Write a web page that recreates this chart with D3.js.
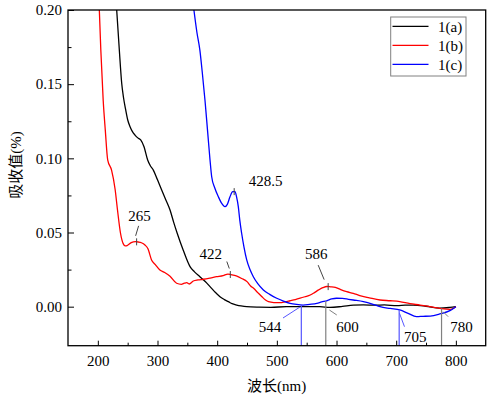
<!DOCTYPE html>
<html>
<head>
<meta charset="utf-8">
<script src="https://cdn.jsdelivr.net/npm/d3@7"></script>
<style>
  body { margin: 0; background: #fff; }
  text { font-family: "Liberation Serif", "Times New Roman", "Noto Sans CJK SC", serif; }
</style>
</head>
<body>
<div id="chart"></div>
<script>
// ---- data (wavelength nm, absorbance) ----
var wlA = [231.6, 236, 240, 243, 246.7, 250, 254, 258, 262.3, 267, 271.8, 277.4, 283.5, 288, 293, 300, 307, 314, 321, 327, 333, 343, 354.5, 362, 371, 380, 388, 396, 404.7, 412, 418.7, 425, 432.7, 440, 449.5, 470, 490, 516, 545, 572, 589, 610, 628, 645, 665, 680, 701, 715, 729, 750, 773, 790, 800];
var absA = [0.200, 0.173, 0.1506, 0.141, 0.1326, 0.126, 0.1213, 0.118, 0.1157, 0.1138, 0.1124, 0.1078, 0.0989, 0.095, 0.0921, 0.0855, 0.0787, 0.072, 0.0652, 0.057, 0.0495, 0.0382, 0.027, 0.0235, 0.0202, 0.017, 0.0135, 0.010, 0.0067, 0.0048, 0.0034, 0.002, 0.0011, 0.0005, 0.0, -0.0003, -0.0004, 0.0, 0.0, 0.0, -0.0005, 0.0002, 0.0010, 0.0012, 0.0010, 0.0012, 0.0007, 0.0010, 0.0011, 0.0003, -0.0010, -0.0005, 0.0];

var wlB = [202.5, 205, 209, 212.5, 216.5, 223, 229, 233, 238, 242.5, 246, 249, 256, 263, 268, 273, 279, 284, 290, 296, 304, 312, 321, 332, 340, 345, 349, 353, 360, 368, 377, 388, 399, 410, 418, 423, 432, 441, 450, 456, 461, 468, 475, 481, 486, 495, 505, 514, 522, 531, 539, 547, 556, 563, 570, 577, 584, 590, 598, 607, 617, 628, 639, 655, 673, 690, 706, 723, 740, 757, 773, 790, 800];
var absB = [0.200, 0.173, 0.139, 0.119, 0.099, 0.092, 0.079, 0.065, 0.0495, 0.0425, 0.041, 0.0412, 0.0432, 0.0438, 0.0436, 0.0431, 0.0416, 0.039, 0.0315, 0.0285, 0.0247, 0.023, 0.0205, 0.0158, 0.0151, 0.0158, 0.0162, 0.0153, 0.0173, 0.018, 0.0185, 0.0193, 0.0202, 0.021, 0.022, 0.0216, 0.0207, 0.019, 0.0169, 0.014, 0.0124, 0.0095, 0.0067, 0.0045, 0.0034, 0.0028, 0.0027, 0.0033, 0.004, 0.0048, 0.0057, 0.0067, 0.0079, 0.0095, 0.0113, 0.0128, 0.0136, 0.0134, 0.013, 0.0115, 0.0101, 0.009, 0.0075, 0.006, 0.0045, 0.004, 0.0034, 0.002, 0.0011, 0.0, -0.0011, -0.0018, 0.0];

var wlC = [361, 366, 371, 375, 379.6, 384, 388, 390.8, 396, 402, 407, 413, 417, 421.5, 426, 429.9, 432.5, 435.4, 438, 441, 445, 449.5, 455, 460.6, 468, 477.4, 488, 499.8, 511, 522, 533, 544, 555, 567, 575, 583.6, 592, 600, 610, 620, 628, 645, 660, 673, 690, 706, 720, 734, 745, 757, 773, 790, 800];
var absC = [0.200, 0.185, 0.173, 0.158, 0.139, 0.118, 0.0989, 0.0876, 0.080, 0.0741, 0.070, 0.0674, 0.069, 0.0741, 0.0775, 0.0776, 0.074, 0.0674, 0.058, 0.0495, 0.040, 0.0315, 0.025, 0.0202, 0.0155, 0.0113, 0.0083, 0.0057, 0.0038, 0.0023, 0.0015, 0.0011, 0.0016, 0.0023, 0.0032, 0.004, 0.0052, 0.0057, 0.0056, 0.005, 0.0045, 0.0034, 0.0018, 0.0, -0.0012, -0.0022, -0.0045, -0.0067, -0.0065, -0.0063, -0.0049, -0.0027, 0.0];

var seriesNames = ["1(a)", "1(b)", "1(c)"];
var seriesColors = ["#000000", "#ff0000", "#0000ff"];

var xTicks = [200, 300, 400, 500, 600, 700, 800];
var xMinor = [250, 350, 450, 550, 650, 750];
var yTicks = [0.00, 0.05, 0.10, 0.15, 0.20];
var yMinor = [0.025, 0.075, 0.125, 0.175];

// peak marks: label, wavelength, series index
var peakLabels = ["265", "422", "428.5", "586"];
var peakWl = [265, 422, 428.5, 586];
var peakSeries = [1, 1, 2, 1];

// drop lines to the axis: label, wavelength, series index
var dropLabels = ["544", "600", "705", "780"];
var dropWl = [541, 582, 705, 776];
var dropSeries = [2, 2, 2, 1];

// ---- layout ----
var W = 491, H = 398;
var mLeft = 68, mTop = 10, mRight = 485.7, mBottom = 345.7;

var svg = d3.select("#chart").append("svg")
    .attr("width", W)
    .attr("height", H);

var x = d3.scaleLinear().domain([150, 850]).range([mLeft, mRight]);
var y = d3.scaleLinear().domain([-0.0263, 0.2]).range([mBottom, mTop]);

var series = [
    d3.zip(wlA, absA),
    d3.zip(wlB, absB),
    d3.zip(wlC, absC)
];

function valueAt(s, w) {
    var pts = series[s];
    for (var i = 1; i < pts.length; i++) {
        if (pts[i][0] >= w) {
            var t = (w - pts[i - 1][0]) / (pts[i][0] - pts[i - 1][0]);
            return pts[i - 1][1] + t * (pts[i][1] - pts[i - 1][1]);
        }
    }
    return pts[pts.length - 1][1];
}

// axes (ticks point inward)
svg.append("g")
    .attr("transform", "translate(0," + mBottom + ")")
    .call(d3.axisBottom(x).tickValues(xTicks).tickSize(-5).tickPadding(10).tickFormat(d3.format("d")));
svg.append("g")
    .attr("transform", "translate(0," + mBottom + ")")
    .call(d3.axisBottom(x).tickValues(xMinor).tickSize(-3).tickFormat(""));

svg.append("g")
    .attr("transform", "translate(" + mLeft + ",0)")
    .call(d3.axisLeft(y).tickValues(yTicks).tickSize(-6).tickPadding(6).tickFormat(d3.format(".2f")));
svg.append("g")
    .attr("transform", "translate(" + mLeft + ",0)")
    .call(d3.axisLeft(y).tickValues(yMinor).tickSize(-3.5).tickFormat(""));

svg.selectAll(".domain").remove();
svg.selectAll(".tick line").attr("stroke", "#000").attr("stroke-width", 1);
svg.selectAll(".tick text")
    .style("font-size", "15px")
    .style("font-family", "'Liberation Serif', serif")
    .attr("fill", "#000");

// curves
svg.append("clipPath").attr("id", "plotclip")
    .append("rect")
    .attr("x", mLeft).attr("y", mTop)
    .attr("width", mRight - mLeft).attr("height", mBottom - mTop);

var line = d3.line()
    .x(function(d) { return x(d[0]); })
    .y(function(d) { return y(d[1]); })
    .curve(d3.curveMonotoneX);

svg.append("g").attr("clip-path", "url(#plotclip)")
    .selectAll("path.curve")
    .data(series)
    .enter().append("path")
    .attr("class", "curve")
    .attr("d", line)
    .attr("fill", "none")
    .attr("stroke", function(d, i) { return seriesColors[i]; })
    .attr("stroke-width", 1.3);

// peak marks
var peakOffsets = [
    { tx: 3, ty: -26, l: [2, -16, -1, -6] },
    { tx: -19.5, ty: -20.5, l: [-3.5, -13, -1, -6] },
    { tx: 31.5, ty: -10.5, l: null },
    { tx: -12, ty: -33, l: [-10, -21.5, -4, -7] }
];

peakWl.forEach(function(w, i) {
    var px = x(w), py = y(valueAt(peakSeries[i], w));
    var o = peakOffsets[i];
    svg.append("line")
        .attr("x1", px).attr("x2", px)
        .attr("y1", py - 3.5).attr("y2", py + 3.5)
        .attr("stroke", "#444").attr("stroke-width", 1);
    if (o.l) {
        svg.append("line")
            .attr("x1", px + o.l[0]).attr("y1", py + o.l[1])
            .attr("x2", px + o.l[2]).attr("y2", py + o.l[3])
            .attr("stroke", "#444").attr("stroke-width", 1);
    }
    svg.append("text")
        .attr("x", px + o.tx).attr("y", py + o.ty)
        .attr("dy", "0.35em")
        .attr("text-anchor", "middle")
        .style("font-size", "15px")
        .text(peakLabels[i]);
});

// drop lines
var dropColors = ["#5555ff", "#808080", "#5555ff", "#808080"];
var dropOffsets = [
    { tx: -31.3, ty: 20, l: [-18.3, 11.3, -1.3, 0.3] },
    { tx: 21.6, ty: 20, l: [3.6, 3.3, 11, 8.3] },
    { tx: 16, ty: 30, l: [0.3, 6.6, 5.3, 20] },
    { tx: 20, ty: 20, l: [1.6, 5, 6.6, 10] }
];
var y0 = y(0);

dropWl.forEach(function(w, i) {
    var px = x(w), py = y(valueAt(dropSeries[i], w));
    var o = dropOffsets[i];
    svg.append("line")
        .attr("x1", px).attr("x2", px)
        .attr("y1", py).attr("y2", mBottom)
        .attr("stroke", dropColors[i]).attr("stroke-width", 1.2);
    svg.append("line")
        .attr("x1", px + o.l[0]).attr("y1", y0 + o.l[1])
        .attr("x2", px + o.l[2]).attr("y2", y0 + o.l[3])
        .attr("stroke", dropColors[i]).attr("stroke-width", 1);
    svg.append("text")
        .attr("x", px + o.tx).attr("y", y0 + o.ty)
        .attr("dy", "0.35em")
        .attr("text-anchor", "middle")
        .style("font-size", "15px")
        .text(dropLabels[i]);
});

// frame
svg.append("rect")
    .attr("x", mLeft).attr("y", mTop)
    .attr("width", mRight - mLeft).attr("height", mBottom - mTop)
    .attr("fill", "none")
    .attr("stroke", "#000")
    .attr("stroke-width", 1.3);

// axis titles
svg.append("text")
    .attr("x", 276.7)
    .attr("y", 386)
    .attr("dy", "0.35em")
    .attr("text-anchor", "middle")
    .style("font-size", "15px")
    .text("波长(nm)");

svg.append("text")
    .attr("transform", "translate(16,165) rotate(-90)")
    .attr("dy", "0.35em")
    .attr("text-anchor", "middle")
    .style("font-size", "15px")
    .text("吸收值(%)");

// legend
var legend = svg.append("g");
legend.append("rect")
    .attr("x", 390.7).attr("y", 17)
    .attr("width", 75.3).attr("height", 59)
    .attr("fill", "#fff")
    .attr("stroke", "#808080")
    .attr("stroke-width", 1);

var items = legend.selectAll("g.item")
    .data(seriesNames)
    .enter().append("g")
    .attr("class", "item")
    .attr("transform", function(d, i) { return "translate(0," + (26.3 + i * 19) + ")"; });
items.append("line")
    .attr("x1", 392.5).attr("x2", 428.5)
    .attr("stroke", function(d, i) { return seriesColors[i]; })
    .attr("stroke-width", 1.3);
items.append("text")
    .attr("x", 438)
    .attr("dy", "0.35em")
    .style("font-size", "15px")
    .text(function(d) { return d; });
</script>
</body>
</html>
